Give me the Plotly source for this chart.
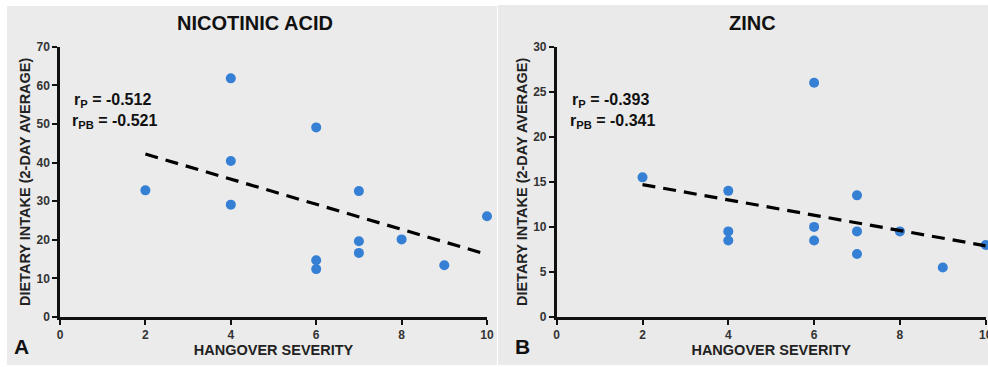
import plotly.graph_objects as go

# ---- data ----
severity_a = [2, 4, 4, 4, 6, 6, 6, 7, 7, 7, 8, 9, 10]
nicotinic = [32.8, 61.8, 40.4, 29.1, 49.1, 14.7, 12.4, 32.6, 19.6, 16.6, 20.1, 13.4, 26.1]
trend_a_x = [2, 10]
trend_a_y = [42.2, 16.2]

severity_b = [2, 4, 4, 4, 6, 6, 6, 7, 7, 7, 8, 9, 10]
zinc = [15.5, 14.0, 9.5, 8.5, 26.0, 10.0, 8.5, 13.5, 9.5, 7.0, 9.5, 5.5, 8.0]
trend_b_x = [2, 10]
trend_b_y = [14.7, 7.9]

x_ticks = [0, 2, 4, 6, 8, 10]
y_ticks_a = [0, 10, 20, 30, 40, 50, 60, 70]
y_ticks_b = [0, 5, 10, 15, 20, 25, 30]

titles = ["NICOTINIC ACID", "ZINC"]
stats_a = ["r<sub>P</sub> = -0.512", "r<sub>PB</sub> = -0.521"]
stats_b = ["r<sub>P</sub> = -0.393", "r<sub>PB</sub> = -0.341"]

W, H = 988, 367
FONT = "Liberation Sans, Arial, sans-serif"
BLUE = "#3580d4"

fig = go.Figure()

fig.add_trace(go.Scatter(x=severity_a, y=nicotinic, mode="markers",
                         marker=dict(color=BLUE, size=10), cliponaxis=False,
                         xaxis="x", yaxis="y", showlegend=False))
fig.add_trace(go.Scatter(x=trend_a_x, y=trend_a_y, mode="lines",
                         line=dict(color="black", width=3.2, dash="13px,8px"),
                         xaxis="x", yaxis="y", showlegend=False))
fig.add_trace(go.Scatter(x=severity_b, y=zinc, mode="markers",
                         marker=dict(color=BLUE, size=10), cliponaxis=False,
                         xaxis="x2", yaxis="y2", showlegend=False))
fig.add_trace(go.Scatter(x=trend_b_x, y=trend_b_y, mode="lines",
                         line=dict(color="black", width=3.2, dash="13px,8px"),
                         xaxis="x2", yaxis="y2", showlegend=False))

ydom = [50 / H, (H - 46.7) / H]
xdom_a = [60 / W, 487 / W]
xdom_b = [556.7 / W, 985.7 / W]

tickfont = dict(family=FONT, size=12, color="#333333", weight="bold")
titlefont = dict(family=FONT, size=14.5, color="#222222", weight="bold")

def xax(dom, anchor, ticks="outside", labels=True, overlay=None, title=None):
    d = dict(domain=dom, anchor=anchor, range=[0, 10], tickvals=x_ticks,
             showgrid=False, zeroline=False, showline=True, linecolor="#111111",
             linewidth=2.5, ticks=ticks, ticklen=5, tickwidth=2, tickcolor="#111111",
             showticklabels=labels, tickfont=tickfont, fixedrange=True,
             automargin=False, ticklabeloverflow="allow")
    if overlay:
        d["overlaying"] = overlay
    if title:
        d["title"] = dict(text=title, font=titlefont, standoff=3)
    return d

def yax(dom, anchor, rng, tv, ticks="outside", labels=True, overlay=None, title=None):
    d = dict(domain=dom, anchor=anchor, range=rng, tickvals=tv,
             showgrid=False, zeroline=False, showline=True, linecolor="#111111",
             linewidth=2.5, ticks=ticks, ticklen=5, tickwidth=2, tickcolor="#111111",
             showticklabels=labels, tickfont=tickfont, fixedrange=True,
             automargin=False, ticklabeloverflow="allow")
    if overlay:
        d["overlaying"] = overlay
    if title:
        d["title"] = dict(text=title, font=titlefont, standoff=3)
    return d

ytitle = "DIETARY INTAKE (2-DAY AVERAGE)"
fig.update_layout(
    width=W, height=H,
    margin=dict(l=0, r=0, t=0, b=0, pad=0),
    paper_bgcolor="white", plot_bgcolor="rgba(0,0,0,0)",
    font=dict(family=FONT, color="#222222"),
    xaxis=xax(xdom_a, "y", title="HANGOVER SEVERITY"),
    yaxis=yax(ydom, "x", [0, 70], y_ticks_a, title=ytitle),
    xaxis2=xax(xdom_b, "y2", title="HANGOVER SEVERITY"),
    yaxis2=yax(ydom, "x2", [0, 30], y_ticks_b, title=ytitle),
    xaxis3=xax(xdom_a, "y", ticks="inside", labels=False, overlay="x"),
    yaxis3=yax(ydom, "x", [0, 70], y_ticks_a, ticks="inside", labels=False, overlay="y"),
    xaxis4=xax(xdom_b, "y2", ticks="inside", labels=False, overlay="x2"),
    yaxis4=yax(ydom, "x2", [0, 30], y_ticks_b, ticks="inside", labels=False, overlay="y2"),
)

# panel backgrounds
fig.add_shape(type="rect", xref="paper", yref="paper", layer="below",
              x0=7 / W, x1=497 / W, y0=2 / H, y1=(H - 6) / H,
              fillcolor="#ebebeb", line=dict(width=0))
fig.add_shape(type="rect", xref="paper", yref="paper", layer="below",
              x0=498 / W, x1=1, y0=2 / H, y1=(H - 5) / H,
              fillcolor="#eaeaea", line=dict(width=0))

# titles
for txt, cx in zip(titles, [255, 752]):
    fig.add_annotation(text="<b>%s</b>" % txt, xref="paper", yref="paper",
                       x=cx / W, y=(H - 23) / H, xanchor="center", yanchor="middle",
                       showarrow=False,
                       font=dict(family=FONT, size=20, color="#111111"))

# panel letters
for txt, cx in zip(["A", "B"], [21, 522]):
    fig.add_annotation(text="<b>%s</b>" % txt, xref="paper", yref="paper",
                       x=cx / W, y=(H - 346) / H, xanchor="center", yanchor="middle",
                       showarrow=False,
                       font=dict(family=FONT, size=21, color="#111111"))

# correlation stats
for lines, lx in zip([stats_a, stats_b], [70, 568]):
    fig.add_annotation(text="<b>" + lines[0] + "</b>", xref="paper", yref="paper",
                       x=(lx + 2) / W, y=(H - 100) / H, xanchor="left", yanchor="middle",
                       showarrow=False,
                       font=dict(family=FONT, size=16, color="#111111"))
    fig.add_annotation(text="<b>" + lines[1] + "</b>", xref="paper", yref="paper",
                       x=lx / W, y=(H - 121) / H, xanchor="left", yanchor="middle",
                       showarrow=False,
                       font=dict(family=FONT, size=16, color="#111111"))

fig.write_html("out.html", config={"displayModeBar": False},
               post_script="document.body.style.margin='0';document.body.style.overflow='hidden';")
